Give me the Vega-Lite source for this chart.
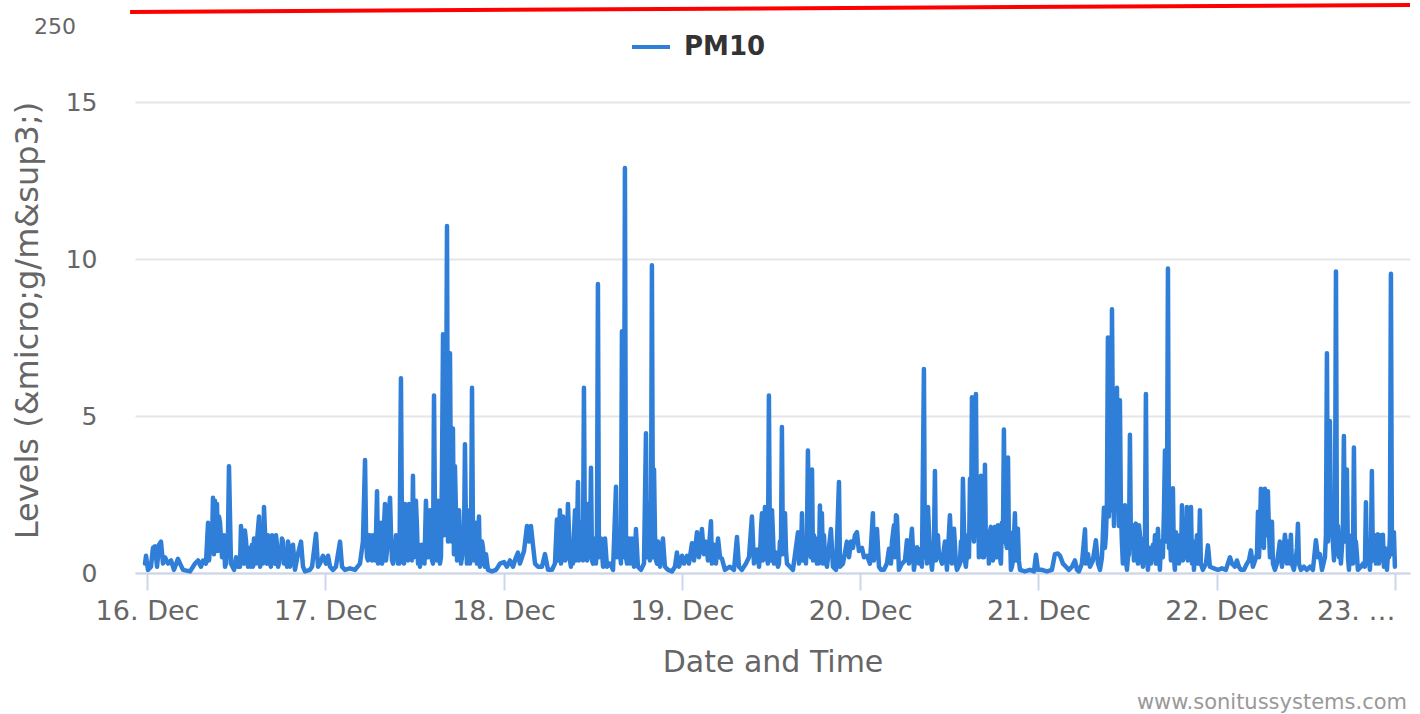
{
"$schema": "https://vega.github.io/schema/vega-lite/v6.json",
"width": 1275,
"height": 471,
"autosize": {"type": "none"},
"padding": {"left": 135, "top": 102, "right": 10, "bottom": 141},
"background": "white",
"config": {"view": {"stroke": null}, "font": "DejaVu Sans"},
"title": {"text": "www.sonitussystems.com", "orient": "bottom", "anchor": "end", "fontSize": 21, "fontWeight": "normal", "color": "#999999", "offset": 15, "dx": -5, "font": "DejaVu Sans"},
"layer": [
{
"data": {"values": [
{"t":"2019-12-15T23:44","v":0.3},{"t":"2019-12-15T23:52","v":0.55},
{"t":"2019-12-16T00:08","v":0.1},{"t":"2019-12-16T00:32","v":0.2},{"t":"2019-12-16T00:48","v":0.8},{"t":"2019-12-16T01:05","v":0.85},{"t":"2019-12-16T01:21","v":0.2},{"t":"2019-12-16T01:37","v":0.9},{"t":"2019-12-16T01:53","v":1.0},{"t":"2019-12-16T02:09","v":0.3},{"t":"2019-12-16T02:25","v":0.5},{"t":"2019-12-16T02:50","v":0.3},{"t":"2019-12-16T03:14","v":0.4},{"t":"2019-12-16T03:38","v":0.1},{"t":"2019-12-16T04:10","v":0.45},{"t":"2019-12-16T04:27","v":0.3},{"t":"2019-12-16T04:51","v":0.1},{"t":"2019-12-16T05:47","v":0.05},{"t":"2019-12-16T06:28","v":0.3},{"t":"2019-12-16T06:52","v":0.4},{"t":"2019-12-16T07:16","v":0.2},{"t":"2019-12-16T07:32","v":0.4},{"t":"2019-12-16T07:56","v":0.3},{"t":"2019-12-16T08:13","v":1.6},{"t":"2019-12-16T08:29","v":0.8},{"t":"2019-12-16T08:53","v":2.4},{"t":"2019-12-16T09:09","v":2.3},{"t":"2019-12-16T09:25","v":2.2},{"t":"2019-12-16T09:41","v":1.8},{"t":"2019-12-16T09:50","v":1.6},{"t":"2019-12-16T10:06","v":0.5},{"t":"2019-12-16T10:22","v":1.2},{"t":"2019-12-16T10:38","v":0.3},{"t":"2019-12-16T10:54","v":1.2},{"t":"2019-12-16T11:02","v":3.4},{"t":"2019-12-16T11:18","v":0.3},{"t":"2019-12-16T11:43","v":0.1},{"t":"2019-12-16T11:59","v":0.5},{"t":"2019-12-16T12:15","v":0.2},{"t":"2019-12-16T12:39","v":1.5},{"t":"2019-12-16T12:55","v":0.4},{"t":"2019-12-16T13:11","v":1.35},{"t":"2019-12-16T13:28","v":0.5},{"t":"2019-12-16T13:44","v":0.8},{"t":"2019-12-16T14:00","v":0.2},{"t":"2019-12-16T14:24","v":1.1},{"t":"2019-12-16T14:40","v":0.3},{"t":"2019-12-16T15:05","v":1.8},{"t":"2019-12-16T15:21","v":0.5},{"t":"2019-12-16T15:45","v":2.1},{"t":"2019-12-16T16:01","v":0.4},{"t":"2019-12-16T16:17","v":1.2},{"t":"2019-12-16T16:33","v":0.3},{"t":"2019-12-16T16:50","v":1.2},{"t":"2019-12-16T17:06","v":0.4},{"t":"2019-12-16T17:22","v":1.2},{"t":"2019-12-16T17:38","v":0.2},{"t":"2019-12-16T17:54","v":0.8},{"t":"2019-12-16T18:10","v":1.1},{"t":"2019-12-16T18:26","v":0.3},{"t":"2019-12-16T18:43","v":0.6},{"t":"2019-12-16T18:59","v":1.0},{"t":"2019-12-16T19:15","v":0.2},{"t":"2019-12-16T19:39","v":0.9},{"t":"2019-12-16T19:55","v":0.1},{"t":"2019-12-16T20:19","v":0.6},{"t":"2019-12-16T20:44","v":1.0},{"t":"2019-12-16T21:00","v":0.2},{"t":"2019-12-16T21:16","v":0.05},{"t":"2019-12-16T21:56","v":0.1},{"t":"2019-12-16T22:13","v":0.2},{"t":"2019-12-16T22:45","v":1.25},{"t":"2019-12-16T23:01","v":0.2},{"t":"2019-12-16T23:17","v":0.3},{"t":"2019-12-16T23:41","v":0.55},
{"t":"2019-12-17T00:06","v":0.3},{"t":"2019-12-17T00:22","v":0.55},{"t":"2019-12-17T00:38","v":0.2},{"t":"2019-12-17T01:02","v":0.1},{"t":"2019-12-17T01:26","v":0.2},{"t":"2019-12-17T01:59","v":1.0},{"t":"2019-12-17T02:15","v":0.2},{"t":"2019-12-17T02:39","v":0.1},{"t":"2019-12-17T03:19","v":0.15},{"t":"2019-12-17T04:00","v":0.1},{"t":"2019-12-17T04:40","v":0.3},{"t":"2019-12-17T05:04","v":1.0},{"t":"2019-12-17T05:21","v":3.6},{"t":"2019-12-17T05:37","v":0.5},{"t":"2019-12-17T05:53","v":1.2},{"t":"2019-12-17T06:09","v":0.6},{"t":"2019-12-17T06:25","v":1.2},{"t":"2019-12-17T06:41","v":0.4},{"t":"2019-12-17T06:58","v":2.6},{"t":"2019-12-17T07:14","v":0.8},{"t":"2019-12-17T07:30","v":1.6},{"t":"2019-12-17T07:46","v":0.5},{"t":"2019-12-17T08:02","v":2.2},{"t":"2019-12-17T08:18","v":0.7},{"t":"2019-12-17T08:43","v":2.4},{"t":"2019-12-17T08:59","v":0.4},{"t":"2019-12-17T09:15","v":0.7},{"t":"2019-12-17T09:31","v":1.2},{"t":"2019-12-17T09:47","v":0.3},{"t":"2019-12-17T10:11","v":6.2},{"t":"2019-12-17T10:28","v":0.5},{"t":"2019-12-17T10:44","v":2.2},{"t":"2019-12-17T11:00","v":0.8},{"t":"2019-12-17T11:16","v":2.2},{"t":"2019-12-17T11:32","v":1.0},{"t":"2019-12-17T11:48","v":3.1},{"t":"2019-12-17T12:04","v":1.2},{"t":"2019-12-17T12:12","v":2.3},{"t":"2019-12-17T12:29","v":0.3},{"t":"2019-12-17T12:45","v":0.2},{"t":"2019-12-17T13:09","v":0.5},{"t":"2019-12-17T13:33","v":2.3},{"t":"2019-12-17T13:49","v":0.5},{"t":"2019-12-17T14:06","v":2.0},{"t":"2019-12-17T14:22","v":0.4},{"t":"2019-12-17T14:38","v":5.65},{"t":"2019-12-17T14:54","v":0.5},{"t":"2019-12-17T15:10","v":2.3},{"t":"2019-12-17T15:26","v":0.3},{"t":"2019-12-17T15:42","v":3.0},{"t":"2019-12-17T15:51","v":7.6},{"t":"2019-12-17T15:59","v":1.2},{"t":"2019-12-17T16:15","v":4.0},{"t":"2019-12-17T16:23","v":11.05},{"t":"2019-12-17T16:31","v":1.0},{"t":"2019-12-17T16:47","v":7.0},{"t":"2019-12-17T16:55","v":2.5},{"t":"2019-12-17T17:11","v":4.6},{"t":"2019-12-17T17:19","v":0.6},{"t":"2019-12-17T17:27","v":3.4},{"t":"2019-12-17T17:44","v":0.4},{"t":"2019-12-17T18:00","v":2.0},{"t":"2019-12-17T18:16","v":0.3},{"t":"2019-12-17T18:32","v":1.0},{"t":"2019-12-17T18:48","v":4.1},{"t":"2019-12-17T19:04","v":0.3},{"t":"2019-12-17T19:21","v":2.0},{"t":"2019-12-17T19:29","v":0.3},{"t":"2019-12-17T19:45","v":5.9},{"t":"2019-12-17T20:01","v":0.4},{"t":"2019-12-17T20:17","v":1.6},{"t":"2019-12-17T20:25","v":0.3},{"t":"2019-12-17T20:41","v":1.8},{"t":"2019-12-17T20:49","v":0.2},{"t":"2019-12-17T21:06","v":1.0},{"t":"2019-12-17T21:22","v":0.3},{"t":"2019-12-17T21:38","v":0.6},{"t":"2019-12-17T21:54","v":0.1},{"t":"2019-12-17T22:26","v":0.05},{"t":"2019-12-17T22:59","v":0.1},{"t":"2019-12-17T23:31","v":0.3},
{"t":"2019-12-18T00:03","v":0.35},{"t":"2019-12-18T00:27","v":0.2},{"t":"2019-12-18T00:52","v":0.4},{"t":"2019-12-18T01:16","v":0.2},{"t":"2019-12-18T01:40","v":0.5},{"t":"2019-12-18T01:56","v":0.65},{"t":"2019-12-18T02:12","v":0.3},{"t":"2019-12-18T02:45","v":0.7},{"t":"2019-12-18T03:09","v":1.5},{"t":"2019-12-18T03:25","v":1.0},{"t":"2019-12-18T03:41","v":1.5},{"t":"2019-12-18T03:57","v":0.9},{"t":"2019-12-18T04:14","v":0.3},{"t":"2019-12-18T04:38","v":0.2},{"t":"2019-12-18T05:10","v":0.2},{"t":"2019-12-18T05:34","v":0.6},{"t":"2019-12-18T05:59","v":0.1},{"t":"2019-12-18T06:31","v":0.1},{"t":"2019-12-18T06:55","v":0.3},{"t":"2019-12-18T07:11","v":1.7},{"t":"2019-12-18T07:19","v":0.4},{"t":"2019-12-18T07:35","v":2.0},{"t":"2019-12-18T07:44","v":0.3},{"t":"2019-12-18T08:00","v":1.8},{"t":"2019-12-18T08:16","v":0.4},{"t":"2019-12-18T08:40","v":2.2},{"t":"2019-12-18T08:56","v":0.4},{"t":"2019-12-18T09:12","v":0.9},{"t":"2019-12-18T09:20","v":0.3},{"t":"2019-12-18T09:37","v":2.0},{"t":"2019-12-18T09:45","v":0.4},{"t":"2019-12-18T10:01","v":2.9},{"t":"2019-12-18T10:17","v":0.5},{"t":"2019-12-18T10:33","v":1.0},{"t":"2019-12-18T10:49","v":5.9},{"t":"2019-12-18T10:57","v":0.8},{"t":"2019-12-18T11:05","v":1.9},{"t":"2019-12-18T11:14","v":0.4},{"t":"2019-12-18T11:22","v":2.2},{"t":"2019-12-18T11:30","v":0.5},{"t":"2019-12-18T11:46","v":3.35},{"t":"2019-12-18T11:54","v":0.4},{"t":"2019-12-18T12:10","v":1.1},{"t":"2019-12-18T12:26","v":0.3},{"t":"2019-12-18T12:42","v":9.2},{"t":"2019-12-18T12:50","v":0.5},{"t":"2019-12-18T13:07","v":1.1},{"t":"2019-12-18T13:23","v":0.2},{"t":"2019-12-18T13:39","v":1.1},{"t":"2019-12-18T13:55","v":0.2},{"t":"2019-12-18T14:19","v":0.3},{"t":"2019-12-18T14:44","v":0.1},{"t":"2019-12-18T15:08","v":2.75},{"t":"2019-12-18T15:16","v":0.5},{"t":"2019-12-18T15:32","v":1.0},{"t":"2019-12-18T15:48","v":0.3},{"t":"2019-12-18T15:56","v":7.7},{"t":"2019-12-18T16:04","v":0.5},{"t":"2019-12-18T16:20","v":12.9},{"t":"2019-12-18T16:29","v":0.5},{"t":"2019-12-18T16:45","v":1.0},{"t":"2019-12-18T17:01","v":0.3},{"t":"2019-12-18T17:17","v":1.1},{"t":"2019-12-18T17:33","v":0.2},{"t":"2019-12-18T17:49","v":1.4},{"t":"2019-12-18T18:05","v":0.2},{"t":"2019-12-18T18:30","v":0.1},{"t":"2019-12-18T18:54","v":0.3},{"t":"2019-12-18T19:10","v":4.45},{"t":"2019-12-18T19:18","v":0.5},{"t":"2019-12-18T19:26","v":2.2},{"t":"2019-12-18T19:42","v":0.4},{"t":"2019-12-18T19:58","v":9.8},{"t":"2019-12-18T20:07","v":0.5},{"t":"2019-12-18T20:15","v":3.3},{"t":"2019-12-18T20:31","v":0.4},{"t":"2019-12-18T20:47","v":1.0},{"t":"2019-12-18T21:03","v":0.2},{"t":"2019-12-18T21:27","v":1.1},{"t":"2019-12-18T21:43","v":0.2},{"t":"2019-12-18T22:08","v":0.1},{"t":"2019-12-18T22:40","v":0.05},{"t":"2019-12-18T23:04","v":0.2},{"t":"2019-12-18T23:20","v":0.65},{"t":"2019-12-18T23:37","v":0.2},
{"t":"2019-12-19T00:01","v":0.55},{"t":"2019-12-19T00:17","v":0.3},{"t":"2019-12-19T00:41","v":0.55},{"t":"2019-12-19T00:57","v":0.3},{"t":"2019-12-19T01:22","v":0.95},{"t":"2019-12-19T01:38","v":0.4},{"t":"2019-12-19T02:02","v":1.3},{"t":"2019-12-19T02:18","v":0.5},{"t":"2019-12-19T02:42","v":1.4},{"t":"2019-12-19T02:58","v":0.6},{"t":"2019-12-19T03:15","v":1.0},{"t":"2019-12-19T03:31","v":0.4},{"t":"2019-12-19T03:55","v":1.65},{"t":"2019-12-19T04:03","v":0.3},{"t":"2019-12-19T04:19","v":0.9},{"t":"2019-12-19T04:35","v":0.3},{"t":"2019-12-19T04:52","v":1.1},{"t":"2019-12-19T05:08","v":0.5},{"t":"2019-12-19T05:24","v":0.45},{"t":"2019-12-19T05:48","v":0.1},{"t":"2019-12-19T06:28","v":0.2},{"t":"2019-12-19T07:01","v":0.1},{"t":"2019-12-19T07:25","v":1.15},{"t":"2019-12-19T07:41","v":0.2},{"t":"2019-12-19T08:05","v":0.1},{"t":"2019-12-19T08:38","v":0.3},{"t":"2019-12-19T09:02","v":0.5},{"t":"2019-12-19T09:26","v":1.8},{"t":"2019-12-19T09:42","v":0.3},{"t":"2019-12-19T10:07","v":0.75},{"t":"2019-12-19T10:23","v":0.2},{"t":"2019-12-19T10:47","v":1.9},{"t":"2019-12-19T10:55","v":0.4},{"t":"2019-12-19T11:11","v":2.1},{"t":"2019-12-19T11:27","v":0.5},{"t":"2019-12-19T11:43","v":5.65},{"t":"2019-12-19T11:51","v":0.8},{"t":"2019-12-19T12:08","v":2.0},{"t":"2019-12-19T12:24","v":0.3},{"t":"2019-12-19T12:40","v":0.65},{"t":"2019-12-19T12:56","v":0.2},{"t":"2019-12-19T13:12","v":1.0},{"t":"2019-12-19T13:28","v":4.65},{"t":"2019-12-19T13:36","v":0.6},{"t":"2019-12-19T13:53","v":1.9},{"t":"2019-12-19T14:09","v":0.3},{"t":"2019-12-19T14:33","v":0.2},{"t":"2019-12-19T14:57","v":0.1},{"t":"2019-12-19T15:38","v":1.3},{"t":"2019-12-19T15:46","v":0.3},{"t":"2019-12-19T16:10","v":1.9},{"t":"2019-12-19T16:18","v":0.4},{"t":"2019-12-19T16:34","v":1.0},{"t":"2019-12-19T16:42","v":0.3},{"t":"2019-12-19T16:58","v":3.9},{"t":"2019-12-19T17:15","v":0.6},{"t":"2019-12-19T17:31","v":3.3},{"t":"2019-12-19T17:39","v":0.4},{"t":"2019-12-19T17:55","v":1.0},{"t":"2019-12-19T18:11","v":0.3},{"t":"2019-12-19T18:35","v":2.15},{"t":"2019-12-19T18:51","v":1.9},{"t":"2019-12-19T19:00","v":0.3},{"t":"2019-12-19T19:16","v":0.45},{"t":"2019-12-19T19:32","v":0.2},{"t":"2019-12-19T20:04","v":1.4},{"t":"2019-12-19T20:20","v":0.2},{"t":"2019-12-19T20:45","v":0.1},{"t":"2019-12-19T21:09","v":2.9},{"t":"2019-12-19T21:17","v":0.2},{"t":"2019-12-19T21:41","v":0.3},{"t":"2019-12-19T22:13","v":1.0},{"t":"2019-12-19T22:30","v":0.5},{"t":"2019-12-19T22:46","v":1.0},{"t":"2019-12-19T23:02","v":0.8},{"t":"2019-12-19T23:18","v":1.2},{"t":"2019-12-19T23:34","v":1.3},{"t":"2019-12-19T23:50","v":0.7},
{"t":"2019-12-20T00:15","v":0.8},{"t":"2019-12-20T00:31","v":0.5},{"t":"2019-12-20T00:55","v":0.55},{"t":"2019-12-20T01:19","v":0.3},{"t":"2019-12-20T01:43","v":1.9},{"t":"2019-12-20T01:51","v":0.4},{"t":"2019-12-20T02:16","v":1.4},{"t":"2019-12-20T02:32","v":0.2},{"t":"2019-12-20T02:48","v":0.1},{"t":"2019-12-20T03:12","v":0.1},{"t":"2019-12-20T03:36","v":0.3},{"t":"2019-12-20T03:53","v":0.77},{"t":"2019-12-20T04:09","v":0.3},{"t":"2019-12-20T04:17","v":1.0},{"t":"2019-12-20T04:33","v":1.52},{"t":"2019-12-20T04:41","v":0.5},{"t":"2019-12-20T04:49","v":1.84},{"t":"2019-12-20T04:57","v":1.8},{"t":"2019-12-20T05:13","v":0.1},{"t":"2019-12-20T05:38","v":0.3},{"t":"2019-12-20T06:02","v":0.4},{"t":"2019-12-20T06:18","v":1.04},{"t":"2019-12-20T06:34","v":0.3},{"t":"2019-12-20T06:58","v":1.41},{"t":"2019-12-20T07:14","v":0.1},{"t":"2019-12-20T07:39","v":0.82},{"t":"2019-12-20T07:55","v":0.3},{"t":"2019-12-20T08:11","v":0.77},{"t":"2019-12-20T08:19","v":0.2},{"t":"2019-12-20T08:35","v":6.5},{"t":"2019-12-20T08:43","v":0.5},{"t":"2019-12-20T09:08","v":2.1},{"t":"2019-12-20T09:24","v":0.6},{"t":"2019-12-20T09:40","v":0.1},{"t":"2019-12-20T10:04","v":3.25},{"t":"2019-12-20T10:20","v":1.0},{"t":"2019-12-20T10:36","v":0.6},{"t":"2019-12-20T11:01","v":0.3},{"t":"2019-12-20T11:25","v":1.0},{"t":"2019-12-20T11:41","v":0.1},{"t":"2019-12-20T12:05","v":1.84},{"t":"2019-12-20T12:21","v":0.3},{"t":"2019-12-20T12:38","v":1.41},{"t":"2019-12-20T12:54","v":0.3},{"t":"2019-12-20T13:02","v":0.1},{"t":"2019-12-20T13:26","v":0.3},{"t":"2019-12-20T13:50","v":3.0},{"t":"2019-12-20T14:06","v":0.4},{"t":"2019-12-20T14:14","v":0.2},{"t":"2019-12-20T14:31","v":1.2},{"t":"2019-12-20T14:47","v":3.0},{"t":"2019-12-20T15:03","v":5.6},{"t":"2019-12-20T15:19","v":1.0},{"t":"2019-12-20T15:35","v":5.7},{"t":"2019-12-20T15:43","v":1.5},{"t":"2019-12-20T15:51","v":2.7},{"t":"2019-12-20T15:59","v":0.5},{"t":"2019-12-20T16:16","v":3.1},{"t":"2019-12-20T16:32","v":0.5},{"t":"2019-12-20T16:48","v":3.45},{"t":"2019-12-20T16:56","v":0.6},{"t":"2019-12-20T17:04","v":0.77},{"t":"2019-12-20T17:20","v":0.3},{"t":"2019-12-20T17:36","v":1.47},{"t":"2019-12-20T17:53","v":0.4},{"t":"2019-12-20T18:09","v":1.47},{"t":"2019-12-20T18:25","v":0.5},{"t":"2019-12-20T18:33","v":1.52},{"t":"2019-12-20T18:49","v":0.5},{"t":"2019-12-20T19:05","v":1.6},{"t":"2019-12-20T19:21","v":4.57},{"t":"2019-12-20T19:37","v":1.0},{"t":"2019-12-20T19:54","v":3.68},{"t":"2019-12-20T20:02","v":0.8},{"t":"2019-12-20T20:18","v":0.1},{"t":"2019-12-20T20:34","v":0.4},{"t":"2019-12-20T20:50","v":1.9},{"t":"2019-12-20T20:58","v":0.4},{"t":"2019-12-20T21:14","v":1.41},{"t":"2019-12-20T21:31","v":0.1},{"t":"2019-12-20T22:11","v":0.05},{"t":"2019-12-20T22:51","v":0.1},{"t":"2019-12-20T23:24","v":0.05},{"t":"2019-12-20T23:40","v":0.58},{"t":"2019-12-20T23:56","v":0.1},
{"t":"2019-12-21T00:28","v":0.1},{"t":"2019-12-21T01:09","v":0.05},{"t":"2019-12-21T01:49","v":0.1},{"t":"2019-12-21T02:13","v":0.6},{"t":"2019-12-21T02:37","v":0.62},{"t":"2019-12-21T02:54","v":0.55},{"t":"2019-12-21T03:18","v":0.3},{"t":"2019-12-21T03:42","v":0.2},{"t":"2019-12-21T04:06","v":0.1},{"t":"2019-12-21T04:31","v":0.2},{"t":"2019-12-21T04:55","v":0.4},{"t":"2019-12-21T05:11","v":0.1},{"t":"2019-12-21T05:27","v":0.05},{"t":"2019-12-21T05:51","v":0.3},{"t":"2019-12-21T06:16","v":1.39},{"t":"2019-12-21T06:24","v":0.3},{"t":"2019-12-21T06:40","v":0.6},{"t":"2019-12-21T06:56","v":0.2},{"t":"2019-12-21T07:20","v":0.4},{"t":"2019-12-21T07:44","v":1.04},{"t":"2019-12-21T08:01","v":0.3},{"t":"2019-12-21T08:17","v":0.1},{"t":"2019-12-21T08:33","v":0.5},{"t":"2019-12-21T08:49","v":2.08},{"t":"2019-12-21T08:57","v":0.8},{"t":"2019-12-21T09:13","v":2.2},{"t":"2019-12-21T09:21","v":7.5},{"t":"2019-12-21T09:37","v":3.0},{"t":"2019-12-21T09:54","v":8.4},{"t":"2019-12-21T10:02","v":4.0},{"t":"2019-12-21T10:18","v":5.0},{"t":"2019-12-21T10:34","v":5.9},{"t":"2019-12-21T10:42","v":3.0},{"t":"2019-12-21T10:58","v":5.5},{"t":"2019-12-21T11:06","v":2.0},{"t":"2019-12-21T11:14","v":1.0},{"t":"2019-12-21T11:22","v":0.3},{"t":"2019-12-21T11:39","v":2.16},{"t":"2019-12-21T11:47","v":0.4},{"t":"2019-12-21T11:55","v":0.1},{"t":"2019-12-21T12:03","v":0.5},{"t":"2019-12-21T12:19","v":4.4},{"t":"2019-12-21T12:27","v":0.8},{"t":"2019-12-21T12:43","v":1.52},{"t":"2019-12-21T12:51","v":0.4},{"t":"2019-12-21T13:07","v":1.57},{"t":"2019-12-21T13:15","v":0.5},{"t":"2019-12-21T13:32","v":1.52},{"t":"2019-12-21T13:48","v":0.5},{"t":"2019-12-21T14:04","v":0.2},{"t":"2019-12-21T14:20","v":0.8},{"t":"2019-12-21T14:28","v":5.7},{"t":"2019-12-21T14:36","v":0.6},{"t":"2019-12-21T14:44","v":0.1},{"t":"2019-12-21T15:09","v":0.3},{"t":"2019-12-21T15:33","v":0.5},{"t":"2019-12-21T15:49","v":0.3},{"t":"2019-12-21T16:05","v":1.41},{"t":"2019-12-21T16:21","v":0.1},{"t":"2019-12-21T16:37","v":0.6},{"t":"2019-12-21T16:54","v":2.0},{"t":"2019-12-21T17:02","v":3.9},{"t":"2019-12-21T17:10","v":1.0},{"t":"2019-12-21T17:26","v":9.7},{"t":"2019-12-21T17:34","v":0.8},{"t":"2019-12-21T17:42","v":1.2},{"t":"2019-12-21T17:50","v":0.4},{"t":"2019-12-21T18:06","v":2.7},{"t":"2019-12-21T18:14","v":0.5},{"t":"2019-12-21T18:22","v":0.1},{"t":"2019-12-21T18:39","v":0.8},{"t":"2019-12-21T18:55","v":0.3},{"t":"2019-12-21T19:19","v":2.16},{"t":"2019-12-21T19:27","v":0.4},{"t":"2019-12-21T19:43","v":1.0},{"t":"2019-12-21T19:59","v":2.1},{"t":"2019-12-21T20:07","v":0.4},{"t":"2019-12-21T20:24","v":0.8},{"t":"2019-12-21T20:32","v":2.1},{"t":"2019-12-21T20:40","v":0.3},{"t":"2019-12-21T20:56","v":0.1},{"t":"2019-12-21T21:12","v":0.6},{"t":"2019-12-21T21:28","v":0.3},{"t":"2019-12-21T21:44","v":2.0},{"t":"2019-12-21T21:52","v":0.3},{"t":"2019-12-21T22:08","v":0.1},{"t":"2019-12-21T22:33","v":0.3},{"t":"2019-12-21T22:49","v":0.88},{"t":"2019-12-21T23:05","v":0.2},{"t":"2019-12-21T23:37","v":0.15},
{"t":"2019-12-22T00:10","v":0.1},{"t":"2019-12-22T00:42","v":0.15},{"t":"2019-12-22T01:14","v":0.1},{"t":"2019-12-22T01:30","v":0.3},{"t":"2019-12-22T01:47","v":0.5},{"t":"2019-12-22T02:03","v":0.3},{"t":"2019-12-22T02:27","v":0.2},{"t":"2019-12-22T02:43","v":0.4},{"t":"2019-12-22T02:59","v":0.2},{"t":"2019-12-22T03:15","v":0.1},{"t":"2019-12-22T03:40","v":0.1},{"t":"2019-12-22T04:04","v":0.3},{"t":"2019-12-22T04:20","v":0.4},{"t":"2019-12-22T04:36","v":0.72},{"t":"2019-12-22T04:52","v":0.2},{"t":"2019-12-22T05:09","v":0.4},{"t":"2019-12-22T05:33","v":1.95},{"t":"2019-12-22T05:41","v":0.5},{"t":"2019-12-22T05:57","v":2.68},{"t":"2019-12-22T06:13","v":1.0},{"t":"2019-12-22T06:29","v":2.68},{"t":"2019-12-22T06:45","v":1.2},{"t":"2019-12-22T06:53","v":2.6},{"t":"2019-12-22T07:10","v":0.5},{"t":"2019-12-22T07:26","v":1.63},{"t":"2019-12-22T07:34","v":0.3},{"t":"2019-12-22T07:50","v":0.1},{"t":"2019-12-22T08:06","v":0.3},{"t":"2019-12-22T08:30","v":1.0},{"t":"2019-12-22T08:47","v":0.2},{"t":"2019-12-22T09:11","v":1.22},{"t":"2019-12-22T09:27","v":0.3},{"t":"2019-12-22T09:43","v":0.6},{"t":"2019-12-22T09:59","v":1.22},{"t":"2019-12-22T10:07","v":0.3},{"t":"2019-12-22T10:23","v":0.1},{"t":"2019-12-22T10:40","v":0.5},{"t":"2019-12-22T10:56","v":1.57},{"t":"2019-12-22T11:04","v":0.3},{"t":"2019-12-22T11:20","v":0.1},{"t":"2019-12-22T11:44","v":0.2},{"t":"2019-12-22T12:08","v":0.1},{"t":"2019-12-22T12:33","v":0.2},{"t":"2019-12-22T12:57","v":0.1},{"t":"2019-12-22T13:21","v":1.04},{"t":"2019-12-22T13:37","v":0.5},{"t":"2019-12-22T13:53","v":0.6},{"t":"2019-12-22T14:10","v":0.1},{"t":"2019-12-22T14:34","v":0.5},{"t":"2019-12-22T14:50","v":7.0},{"t":"2019-12-22T14:58","v":1.0},{"t":"2019-12-22T15:14","v":4.84},{"t":"2019-12-22T15:22","v":1.5},{"t":"2019-12-22T15:38","v":1.0},{"t":"2019-12-22T15:47","v":0.4},{"t":"2019-12-22T16:03","v":9.6},{"t":"2019-12-22T16:11","v":0.6},{"t":"2019-12-22T16:19","v":1.5},{"t":"2019-12-22T16:35","v":1.0},{"t":"2019-12-22T16:43","v":0.3},{"t":"2019-12-22T16:59","v":1.5},{"t":"2019-12-22T17:07","v":4.36},{"t":"2019-12-22T17:15","v":1.0},{"t":"2019-12-22T17:31","v":3.3},{"t":"2019-12-22T17:40","v":0.5},{"t":"2019-12-22T17:48","v":0.1},{"t":"2019-12-22T18:04","v":0.5},{"t":"2019-12-22T18:28","v":4.0},{"t":"2019-12-22T18:36","v":0.6},{"t":"2019-12-22T18:44","v":1.0},{"t":"2019-12-22T19:00","v":0.1},{"t":"2019-12-22T19:25","v":0.2},{"t":"2019-12-22T19:41","v":0.3},{"t":"2019-12-22T19:57","v":0.2},{"t":"2019-12-22T20:05","v":2.25},{"t":"2019-12-22T20:13","v":0.3},{"t":"2019-12-22T20:37","v":0.1},{"t":"2019-12-22T20:53","v":3.25},{"t":"2019-12-22T21:01","v":0.4},{"t":"2019-12-22T21:18","v":1.2},{"t":"2019-12-22T21:26","v":0.3},{"t":"2019-12-22T21:42","v":1.23},{"t":"2019-12-22T21:50","v":0.3},{"t":"2019-12-22T22:06","v":0.8},{"t":"2019-12-22T22:22","v":1.22},{"t":"2019-12-22T22:30","v":0.2},{"t":"2019-12-22T22:55","v":0.1},{"t":"2019-12-22T23:11","v":0.5},{"t":"2019-12-22T23:27","v":9.53},{"t":"2019-12-22T23:35","v":0.6},{"t":"2019-12-22T23:51","v":1.3},{"t":"2019-12-22T23:59","v":0.2},
{"t":"2019-12-16T08:21","v":0.4},{"t":"2019-12-16T08:45","v":1.0},{"t":"2019-12-16T09:01","v":0.6},{"t":"2019-12-16T09:17","v":1.3},{"t":"2019-12-16T09:33","v":0.7},{"t":"2019-12-16T10:14","v":1.0},{"t":"2019-12-16T10:30","v":0.2},{"t":"2019-12-16T10:46","v":0.9},{"t":"2019-12-16T12:31","v":0.2},{"t":"2019-12-16T12:47","v":1.0},{"t":"2019-12-16T13:03","v":0.3},{"t":"2019-12-16T13:20","v":1.0},{"t":"2019-12-16T13:36","v":0.2},{"t":"2019-12-16T14:08","v":0.9},{"t":"2019-12-16T14:16","v":0.2},{"t":"2019-12-16T14:32","v":1.0},{"t":"2019-12-16T14:52","v":1.2},{"t":"2019-12-16T15:13","v":0.2},{"t":"2019-12-16T15:29","v":1.5},{"t":"2019-12-16T15:37","v":0.3},{"t":"2019-12-16T15:53","v":1.3},{"t":"2019-12-16T16:09","v":0.3},{"t":"2019-12-16T16:25","v":0.8},{"t":"2019-12-16T16:41","v":0.2},{"t":"2019-12-16T16:58","v":0.8},{"t":"2019-12-16T17:14","v":0.3},{"t":"2019-12-16T17:30","v":0.9},{"t":"2019-12-16T17:46","v":0.3},{"t":"2019-12-16T18:02","v":0.5},{"t":"2019-12-16T18:18","v":1.0},{"t":"2019-12-16T18:34","v":0.4},{"t":"2019-12-16T18:51","v":0.2},{"t":"2019-12-16T19:07","v":0.8},{"t":"2019-12-16T19:27","v":0.5},
{"t":"2019-12-17T05:29","v":1.3},{"t":"2019-12-17T05:45","v":0.4},{"t":"2019-12-17T06:01","v":1.2},{"t":"2019-12-17T06:17","v":0.4},{"t":"2019-12-17T06:33","v":1.0},{"t":"2019-12-17T06:50","v":1.3},{"t":"2019-12-17T07:06","v":0.3},{"t":"2019-12-17T07:22","v":1.2},{"t":"2019-12-17T07:38","v":0.3},{"t":"2019-12-17T07:54","v":1.5},{"t":"2019-12-17T08:10","v":0.4},{"t":"2019-12-17T08:30","v":1.8},{"t":"2019-12-17T08:51","v":1.2},{"t":"2019-12-17T09:07","v":0.3},{"t":"2019-12-17T09:23","v":0.5},{"t":"2019-12-17T09:39","v":0.9},{"t":"2019-12-17T09:59","v":0.3},{"t":"2019-12-17T10:19","v":1.5},{"t":"2019-12-17T10:36","v":0.3},{"t":"2019-12-17T10:52","v":1.5},{"t":"2019-12-17T11:08","v":0.4},{"t":"2019-12-17T11:24","v":1.8},{"t":"2019-12-17T11:40","v":0.4},{"t":"2019-12-17T11:56","v":0.5},{"t":"2019-12-17T12:20","v":1.5},{"t":"2019-12-17T12:37","v":0.6},{"t":"2019-12-17T12:57","v":0.9},{"t":"2019-12-17T13:21","v":0.3},{"t":"2019-12-17T13:41","v":1.4},{"t":"2019-12-17T13:57","v":0.6},{"t":"2019-12-17T14:14","v":1.5},{"t":"2019-12-17T14:30","v":0.3},{"t":"2019-12-17T14:46","v":1.8},{"t":"2019-12-17T15:02","v":0.4},{"t":"2019-12-17T15:18","v":1.6},{"t":"2019-12-17T15:34","v":0.5},{"t":"2019-12-17T16:07","v":1.5},{"t":"2019-12-17T16:39","v":2.5},{"t":"2019-12-17T17:03","v":1.0},{"t":"2019-12-17T17:35","v":2.0},{"t":"2019-12-17T17:52","v":0.5},{"t":"2019-12-17T18:08","v":1.2},{"t":"2019-12-17T18:24","v":0.5},{"t":"2019-12-17T18:40","v":0.9},{"t":"2019-12-17T18:56","v":1.5},{"t":"2019-12-17T19:12","v":1.0},{"t":"2019-12-17T19:37","v":1.2},{"t":"2019-12-17T19:53","v":1.0},{"t":"2019-12-17T20:09","v":0.8},{"t":"2019-12-17T20:33","v":0.5},{"t":"2019-12-17T20:57","v":0.6},{"t":"2019-12-17T21:14","v":0.8},{"t":"2019-12-17T21:30","v":0.2},
{"t":"2019-12-18T07:27","v":1.0},{"t":"2019-12-18T07:52","v":0.6},{"t":"2019-12-18T08:08","v":1.2},{"t":"2019-12-18T08:28","v":0.5},{"t":"2019-12-18T08:48","v":1.3},{"t":"2019-12-18T09:04","v":0.2},{"t":"2019-12-18T09:28","v":1.2},{"t":"2019-12-18T09:53","v":1.2},{"t":"2019-12-18T10:09","v":0.4},{"t":"2019-12-18T10:25","v":1.6},{"t":"2019-12-18T10:41","v":0.4},{"t":"2019-12-18T11:38","v":1.0},{"t":"2019-12-18T12:02","v":0.3},{"t":"2019-12-18T12:18","v":0.8},{"t":"2019-12-18T12:34","v":1.0},{"t":"2019-12-18T12:58","v":0.9},{"t":"2019-12-18T13:15","v":0.7},{"t":"2019-12-18T13:31","v":0.3},{"t":"2019-12-18T16:12","v":0.9},{"t":"2019-12-18T16:37","v":0.3},{"t":"2019-12-18T16:53","v":1.1},{"t":"2019-12-18T17:09","v":0.4},{"t":"2019-12-18T17:25","v":0.9},{"t":"2019-12-18T17:41","v":0.4},{"t":"2019-12-18T19:34","v":1.5},{"t":"2019-12-18T19:50","v":0.6},{"t":"2019-12-18T20:23","v":1.2},{"t":"2019-12-18T20:39","v":0.3},{"t":"2019-12-18T20:55","v":0.8},
{"t":"2019-12-19T10:31","v":0.5},{"t":"2019-12-19T10:39","v":1.4},{"t":"2019-12-19T11:03","v":0.5},{"t":"2019-12-19T11:19","v":1.3},{"t":"2019-12-19T11:35","v":0.3},{"t":"2019-12-19T12:00","v":0.4},{"t":"2019-12-19T12:16","v":1.2},{"t":"2019-12-19T12:32","v":0.4},{"t":"2019-12-19T13:04","v":0.3},{"t":"2019-12-19T13:20","v":0.6},{"t":"2019-12-19T13:44","v":1.2},{"t":"2019-12-19T14:01","v":0.7},{"t":"2019-12-19T16:02","v":0.6},{"t":"2019-12-19T16:26","v":0.6},{"t":"2019-12-19T16:50","v":1.0},{"t":"2019-12-19T17:07","v":1.5},{"t":"2019-12-19T17:23","v":0.5},{"t":"2019-12-19T17:47","v":1.2},{"t":"2019-12-19T18:03","v":0.5},{"t":"2019-12-19T18:19","v":1.1},{"t":"2019-12-19T18:27","v":0.3},{"t":"2019-12-19T18:43","v":0.5},{"t":"2019-12-19T19:08","v":1.2},
{"t":"2019-12-20T08:51","v":1.2},{"t":"2019-12-20T09:00","v":0.3},{"t":"2019-12-20T09:16","v":1.3},{"t":"2019-12-20T09:32","v":0.4},{"t":"2019-12-20T09:56","v":0.9},{"t":"2019-12-20T10:12","v":0.4},{"t":"2019-12-20T10:28","v":1.2},{"t":"2019-12-20T13:34","v":1.0},{"t":"2019-12-20T13:42","v":0.4},{"t":"2019-12-20T13:58","v":1.5},{"t":"2019-12-20T14:22","v":0.6},{"t":"2019-12-20T14:39","v":0.5},{"t":"2019-12-20T14:55","v":1.2},{"t":"2019-12-20T15:11","v":1.5},{"t":"2019-12-20T15:27","v":2.0},{"t":"2019-12-20T16:08","v":1.2},{"t":"2019-12-20T16:24","v":1.4},{"t":"2019-12-20T16:40","v":0.5},{"t":"2019-12-20T17:12","v":1.2},{"t":"2019-12-20T17:28","v":1.3},{"t":"2019-12-20T17:44","v":0.5},{"t":"2019-12-20T18:01","v":1.3},{"t":"2019-12-20T18:17","v":0.5},{"t":"2019-12-20T18:41","v":1.5},{"t":"2019-12-20T18:57","v":0.3},{"t":"2019-12-20T19:13","v":1.0},{"t":"2019-12-20T19:29","v":1.5},{"t":"2019-12-20T19:45","v":0.8},{"t":"2019-12-20T20:10","v":1.3},{"t":"2019-12-20T20:26","v":0.2},{"t":"2019-12-20T20:42","v":1.1},{"t":"2019-12-20T21:06","v":0.9},{"t":"2019-12-20T21:22","v":0.4},
{"t":"2019-12-21T09:05","v":1.2},{"t":"2019-12-21T09:29","v":1.8},{"t":"2019-12-21T09:46","v":2.0},{"t":"2019-12-21T10:10","v":1.5},{"t":"2019-12-21T10:26","v":2.2},{"t":"2019-12-21T10:50","v":1.5},{"t":"2019-12-21T11:30","v":1.5},{"t":"2019-12-21T12:11","v":0.6},{"t":"2019-12-21T12:35","v":1.2},{"t":"2019-12-21T12:59","v":1.5},{"t":"2019-12-21T13:24","v":0.3},{"t":"2019-12-21T13:40","v":1.2},{"t":"2019-12-21T13:56","v":0.4},{"t":"2019-12-21T14:12","v":1.1},{"t":"2019-12-21T15:01","v":0.8},{"t":"2019-12-21T15:25","v":0.9},{"t":"2019-12-21T15:41","v":1.2},{"t":"2019-12-21T15:57","v":0.5},{"t":"2019-12-21T16:13","v":0.6},{"t":"2019-12-21T16:29","v":1.0},{"t":"2019-12-21T16:45","v":0.5},{"t":"2019-12-21T17:18","v":2.0},{"t":"2019-12-21T17:58","v":1.5},{"t":"2019-12-21T18:30","v":1.3},{"t":"2019-12-21T18:47","v":1.0},{"t":"2019-12-21T19:03","v":1.2},{"t":"2019-12-21T19:11","v":0.4},{"t":"2019-12-21T19:35","v":1.3},{"t":"2019-12-21T19:51","v":0.5},{"t":"2019-12-21T20:15","v":1.4},{"t":"2019-12-21T20:48","v":1.0},{"t":"2019-12-21T21:04","v":0.8},{"t":"2019-12-21T21:20","v":1.2},{"t":"2019-12-21T21:36","v":0.5},
{"t":"2019-12-22T05:25","v":0.6},{"t":"2019-12-22T05:49","v":1.2},{"t":"2019-12-22T06:05","v":1.5},{"t":"2019-12-22T06:21","v":0.8},{"t":"2019-12-22T06:37","v":1.5},{"t":"2019-12-22T07:02","v":1.3},{"t":"2019-12-22T07:18","v":0.6},{"t":"2019-12-22T09:19","v":0.8},{"t":"2019-12-22T09:35","v":1.0},{"t":"2019-12-22T09:51","v":0.3},{"t":"2019-12-22T10:48","v":0.8},{"t":"2019-12-22T14:42","v":1.2},{"t":"2019-12-22T15:06","v":1.5},{"t":"2019-12-22T15:30","v":2.0},{"t":"2019-12-22T15:55","v":1.5},{"t":"2019-12-22T16:27","v":0.5},{"t":"2019-12-22T16:51","v":0.8},{"t":"2019-12-22T17:23","v":1.2},{"t":"2019-12-22T17:56","v":1.0},{"t":"2019-12-22T18:12","v":1.2},{"t":"2019-12-22T18:20","v":0.3},{"t":"2019-12-22T18:52","v":0.6},{"t":"2019-12-22T20:21","v":1.0},{"t":"2019-12-22T20:45","v":0.6},{"t":"2019-12-22T21:09","v":1.2},{"t":"2019-12-22T21:34","v":0.8},{"t":"2019-12-22T21:58","v":1.2},{"t":"2019-12-22T22:14","v":0.4},{"t":"2019-12-22T22:38","v":0.8},{"t":"2019-12-22T23:03","v":0.6},{"t":"2019-12-22T23:19","v":1.2},{"t":"2019-12-22T23:43","v":0.8}
]},
"mark": {"type": "line", "strokeWidth": 4.5, "strokeJoin": "round", "strokeCap": "round"},
"encoding": {
"x": {"field": "t", "type": "temporal",
"scale": {"domain": [{"year": 2019, "month": 12, "date": 15, "hours": 22, "minutes": 23}, {"year": 2019, "month": 12, "date": 23, "hours": 2, "minutes": 1}], "nice": false},
"axis": {"values": [{"year": 2019, "month": 12, "date": 16}, {"year": 2019, "month": 12, "date": 17}, {"year": 2019, "month": 12, "date": 18}, {"year": 2019, "month": 12, "date": 19}, {"year": 2019, "month": 12, "date": 20}, {"year": 2019, "month": 12, "date": 21}, {"year": 2019, "month": 12, "date": 22}, {"year": 2019, "month": 12, "date": 23}],
"labelExpr": "date(datum.value) == 23 ? '23. …' : timeFormat(datum.value, '%-d. %b')",
"labelAlign": {"condition": {"test": "date(datum.value) == 23", "value": "right"}, "value": "center"},
"labelFontSize": 27, "labelColor": "#666666", "labelPadding": 8, "labelOverlap": false, "labelFlush": false, "labelBound": false,
"tickSize": 17, "tickColor": "#ccd6eb", "tickWidth": 2, "domainColor": "#ccd6eb", "domainWidth": 2, "grid": false,
"title": "Date and Time", "titleFontSize": 30, "titleColor": "#666666", "titleFontWeight": "normal", "titleY": 98, "titleBaseline": "alphabetic"}},
"y": {"field": "v", "type": "quantitative",
"scale": {"domain": [0, 15], "nice": false},
"axis": {"values": [0, 5, 10, 15], "grid": true, "gridColor": "#e6e6e6", "gridWidth": 2, "domain": false, "ticks": false,
"labelFontSize": 25, "labelColor": "#666666", "labelPadding": 38,
"title": "Levels (&micro;g/m&sup3;)", "titleFontSize": 32, "titleColor": "#666666", "titleFontWeight": "normal",
"titleX": -98, "titleY": 218, "titleAngle": 270, "titleAlign": "center", "titleBaseline": "alphabetic"}},
"color": {"datum": "PM10", "scale": {"range": ["#2f7ed8"]},
"legend": {"orient": "none", "legendX": 495, "legendY": -76, "title": null, "symbolType": "stroke", "symbolSize": 1444, "symbolStrokeWidth": 4, "labelFontSize": 26, "labelFontWeight": "bold", "labelColor": "#333333", "labelOffset": 12, "padding": 0}}
}
},
{
"data": {"values": [{"t1": "2019-12-15T21:43", "t2": "2019-12-23T02:01", "y1": 17.87, "y2": 18.09}]},
"mark": {"type": "rule", "color": "#ff0000", "strokeWidth": 4},
"encoding": {"x": {"field": "t1", "type": "temporal"}, "x2": {"field": "t2"}, "y": {"field": "y1", "type": "quantitative"}, "y2": {"field": "y2"}}
},
{
"data": {"values": [{"t": "2019-12-15T11:37", "v": 17.39, "label": "250"}]},
"mark": {"type": "text", "fontSize": 22, "color": "#666666", "align": "center", "baseline": "middle"},
"encoding": {"x": {"field": "t", "type": "temporal"}, "y": {"field": "v", "type": "quantitative"}, "text": {"field": "label"}}
}
]
}
